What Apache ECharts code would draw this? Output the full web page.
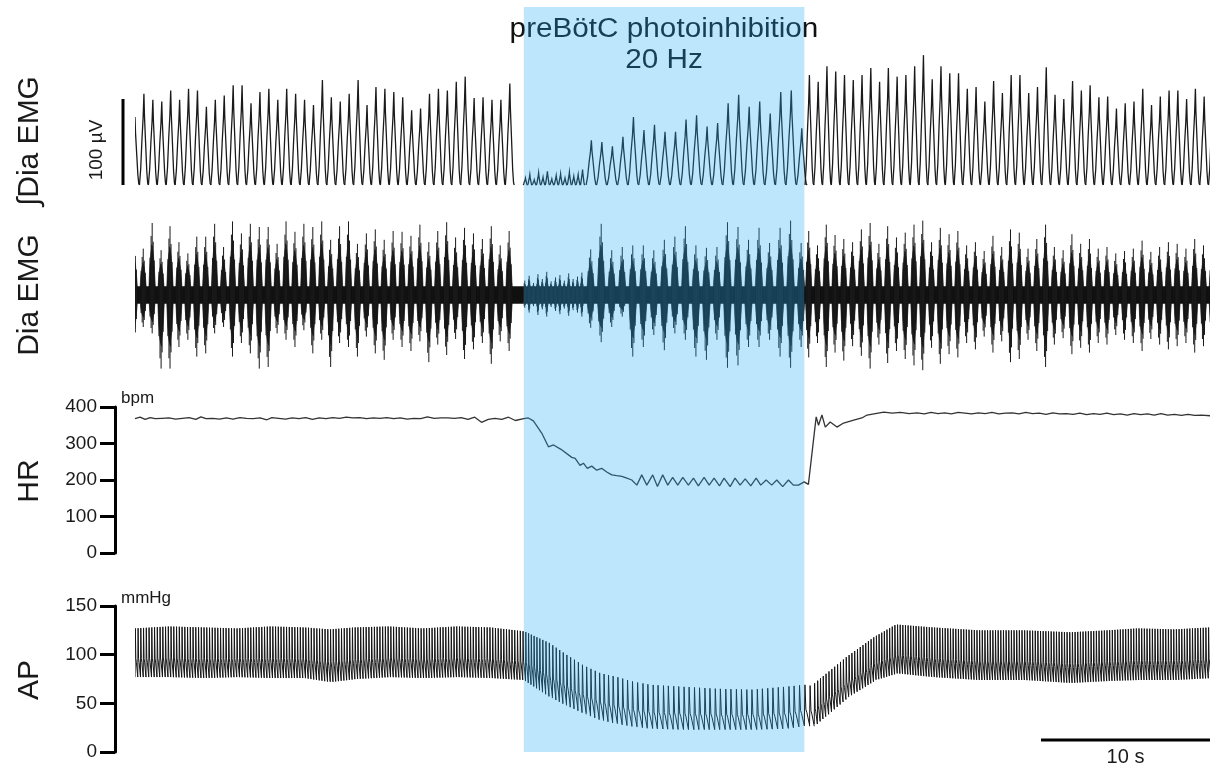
<!DOCTYPE html>
<html><head><meta charset="utf-8">
<script src="https://cdn.jsdelivr.net/npm/echarts@6/dist/echarts.min.js"></script>
<style>html,body{margin:0;padding:0;background:#fff}#c{width:1214px;height:767px}</style>
</head><body><div id="c"></div>
<script>
// ---------------- data ----------------
const T_MAX = 63.6;                 // s, full trace length
const STIM_ON = 23.0, STIM_OFF = 39.6; // photoinhibition window (s)
const SCALE_BAR_S = 10;

// breath segments: left control, early stim ripple, stim bursts, recovery
const segStart  = [0.0, 23.1, 27.0, 39.9];
const segPeriod = [0.528, 0.26, 0.6225, 0.519];

// integrated Dia EMG peak heights (µV) per breath
const intDiaLeft   = [79,106,99,97,110,99,112,110,91,99,104,116,116,95,108,112,99,112,106,99,93,122,102,97,106,122,93,114,112,108,102,87,89,106,112,110,120,126,101,102,99,99,118];
const intDiaRipple = [8,12,6,14,9,16,7,11,13,8,15,10,12,18];
const intDiaStim   = [52,50,45,56,79,64,70,62,62,76,81,68,72,95,105,91,97,83,108,110,66];
const intDiaRight  = [128,120,138,132,128,122,128,136,120,136,126,128,138,151,123,138,130,130,112,114,97,121,107,128,128,107,114,137,105,100,121,110,116,102,103,89,95,97,112,93,103,110,110,100,112,103,110];

// raw Dia EMG burst extents (µV, upward / downward) per breath
const emgUpLeft     = [66,58,90,56,86,66,52,73,73,89,60,92,77,89,85,85,64,92,79,89,85,92,69,86,92,64,77,82,69,80,79,74,88,66,80,91,72,84,77,70,86,62,80];
const emgDownLeft   = [-60,-40,-48,-92,-92,-65,-56,-77,-73,-48,-40,-77,-60,-73,-92,-90,-48,-56,-65,-44,-73,-56,-90,-60,-65,-77,-52,-73,-81,-56,-65,-70,-58,-84,-62,-75,-55,-80,-68,-60,-86,-58,-70];
const emgUpRipple   = [18,24,15,26,20,29,17,22,25,18,27,20,23,28];
const emgDownRipple = [-16,-22,-14,-25,-18,-27,-15,-20,-24,-17,-26,-19,-22,-27];
const emgUpStim     = [57,89,56,60,62,62,56,69,73,86,62,59,60,91,85,69,84,65,84,93,65];
const emgDownStim   = [-41,-59,-40,-27,-77,-65,-50,-69,-48,-56,-77,-81,-56,-91,-88,-65,-65,-56,-77,-91,-65];
const emgUpRight    = [80,62,88,75,70,66,82,90,64,86,72,78,88,93,66,84,76,80,62,66,55,74,60,82,78,58,70,88,60,56,76,64,70,58,60,52,55,58,68,54,60,66,64,58,70,62,60];
const emgDownRight  = [-78,-60,-90,-72,-82,-64,-76,-92,-62,-85,-70,-80,-88,-94,-66,-86,-74,-78,-60,-68,-52,-72,-58,-84,-80,-56,-70,-90,-62,-54,-74,-66,-72,-60,-62,-50,-56,-60,-70,-55,-62,-68,-64,-60,-72,-64,-60];
// tonic EMG background band (half width, µV) between times
const emgBandTimes = [0, 23.0, 27.0, 39.6, 63.6];
const emgBandHalf  = [11, 11, 11, 11];

// heart rate (bpm)
const hrTimes = [0,0.3,0.6,0.9,1.2,1.6,2.0,2.4,2.8,3.2,3.6,3.9,4.2,4.6,5.0,5.4,5.8,6.2,6.6,7.0,7.4,7.8,8.1,8.5,8.9,9.3,9.7,10.1,10.5,10.9,11.3,11.7,12.1,12.5,12.9,13.3,13.7,14.1,14.5,14.9,15.3,15.7,16.1,16.5,16.9,17.3,17.7,18.1,18.5,18.9,19.3,19.7,20.1,20.5,20.9,21.3,21.7,22.1,22.5,23.0,
  23.27,23.57,24.07,24.46,24.76,25.2,25.84,26.04,26.33,26.53,26.76,27.02,27.32,27.61,27.91,28.21,28.5,28.8,29.1,29.39,29.69,29.98,30.28,30.63,30.91,31.22,31.52,31.81,32.11,32.41,32.74,33.04,33.33,33.67,33.97,34.26,34.58,34.85,35.21,35.5,35.8,36.1,36.43,36.75,37.02,37.34,37.67,37.97,38.32,38.66,38.95,39.25,39.59,39.84,
  40.3,40.44,40.64,40.84,41.13,41.53,41.92,42.52,43.0,43.31,43.8,44.3,44.8,45.28,45.8,46.27,46.7,47.1,47.5,47.9,48.3,48.7,49.1,49.5,49.9,50.3,50.7,51.1,51.5,51.9,52.3,52.7,53.1,53.5,53.9,54.3,54.7,55.1,55.5,55.9,56.3,56.7,57.1,57.5,57.9,58.3,58.7,59.1,59.5,59.9,60.3,60.7,61.1,61.5,61.9,62.3,62.7,63.1,63.6];
const hrBpm = [368,372,366,371,368,369,370,367,369,371,366,373,368,369,367,370,367,371,369,368,370,365,371,369,367,370,368,371,366,370,368,371,369,372,370,371,368,370,369,371,368,370,367,369,368,373,369,370,370,369,371,366,372,358,366,369,366,372,363,368,
  370,362,328,291,296,284,262,259,240,246,232,238,227,232,222,214,212,210,205,200,186,214,186,214,182,214,186,207,186,207,186,205,184,207,186,205,184,205,182,205,186,203,184,205,186,200,186,200,182,200,186,186,195,188,
  373,350,378,345,359,345,356,364,370,378,382,386,383,385,382,384,381,385,382,384,381,385,383,381,384,382,385,381,383,384,381,385,382,383,380,384,381,382,380,383,379,382,380,383,379,381,378,382,379,381,378,382,378,380,377,380,377,378,376];

// arterial pressure envelope (mmHg): systolic / diastolic
const apTimes = [0,2,4,6,8,10,11.5,13,15,17,19,21,23.0,24.5,25.5,26.5,27.5,28.5,29.5,30.5,32.4,34.4,36.4,38.4,39.6,40.0,42.1,43.7,45.0,47.2,49.9,52.6,55.3,57.5,59.3,61.5,63.6];
const apSys   = [127,129,128,127,129,128,126,128,129,127,129,128,124,112,100,89,81,77,72,69,67,65,64,67,69,68,98,118,131,128,125,125,123,125,127,126,128];
const apDia   = [77,77,76,77,76,76,72,75,77,76,77,76,74,57,48,40,33,29,26,24,23,23,23,24,28,26,57,74,81,77,74,74,71,73,74,74,76];

const hrTicks = [0,100,200,300,400];
const apTicks = [0,50,100,150];

// ---------------- build items ----------------
function breathItems(vals, seg){ return vals.map((v,i)=>[segStart[seg]+i*segPeriod[seg], v, segPeriod[seg]]); }
const intItems = [].concat(breathItems(intDiaLeft,0), breathItems(intDiaRipple,1), breathItems(intDiaStim,2), breathItems(intDiaRight,3));
function burstItems(ups, downs, seg){ return ups.map((u,i)=>[segStart[seg]+i*segPeriod[seg]-0.04, u, downs[i], segPeriod[seg]]); }
const emgItems = [].concat(burstItems(emgUpLeft,emgDownLeft,0), burstItems(emgUpRipple,emgDownRipple,1), burstItems(emgUpStim,emgDownStim,2), burstItems(emgUpRight,emgDownRight,3));
const bandItems = emgBandHalf.map((h,i)=>[emgBandTimes[i], emgBandTimes[i+1], h, -h]);
const hrData = hrTimes.map((t,i)=>[t, hrBpm[i]]);
const apItems = apTimes.slice(0,-1).map((t,i)=>[t, apTimes[i+1], apSys[i], apSys[i+1], apDia[i], apDia[i+1]]);

function hrAt(t){
  for(let i=1;i<hrTimes.length;i++){
    if(t<=hrTimes[i]){ const f=(t-hrTimes[i-1])/(hrTimes[i]-hrTimes[i-1]); return hrBpm[i-1]+f*(hrBpm[i]-hrBpm[i-1]); }
  }
  return hrBpm[hrBpm.length-1];
}
const beatTimes=[]; { let tb=0; while(tb<T_MAX+0.4){ beatTimes.push(tb); tb+=60/hrAt(tb); } }

// ---------------- renderers ----------------
const BREATH_SHAPE = [[-0.5,0],[-0.36,0.18],[-0.22,0.5],[-0.09,0.74],[0,1],[0.06,0.76],[0.18,0.48],[0.32,0.15],[0.42,0.02],[0.5,0]];
function renderBreath(params, api){
  const t=api.value(0), A=api.value(1), P=api.value(2);
  const pts = BREATH_SHAPE.map(p=>api.coord([t+p[0]*P, p[1]*A]));
  return {type:'polyline', shape:{points:pts}, style:{stroke:'#1a1a1a', lineWidth:1.3, fill:'none'}};
}
const SPINDLE = [[-1,0],[-0.7,0.38],[-0.35,0.6],[0,0.68],[0.35,0.55],[0.7,0.3],[1,0]];
const SPIKES = [[0,1,1],[-0.3,0.82,0.86],[0.28,0.74,0.78],[-0.6,0.52,0.56],[0.58,0.48,0.5],[-0.12,0.7,0.65],[0.14,0.62,0.7]];
function renderBurst(params, api){
  const t=api.value(0), up=api.value(1), dn=api.value(2), P=api.value(3);
  const w = P*0.4;
  const poly=[];
  SPINDLE.forEach(p=>poly.push(api.coord([t+p[0]*w, p[1]*up])));
  SPINDLE.slice().reverse().forEach(p=>poly.push(api.coord([t+p[0]*w, p[1]*dn])));
  const children=[{type:'polygon', shape:{points:poly}, style:{fill:'#0a0a0a', stroke:'#151515', lineWidth:0.6}}];
  SPIKES.forEach(s=>{
    const a=api.coord([t+s[0]*w, s[1]*up]), b=api.coord([t+s[0]*w, s[2]*dn]);
    children.push({type:'line', shape:{x1:a[0],y1:a[1],x2:b[0],y2:b[1]}, style:{stroke:'#1a1a1a', lineWidth:1}});
  });
  return {type:'group', children};
}
function renderBand(params, api){
  const a=api.coord([api.value(0), api.value(2)]), b=api.coord([api.value(1), api.value(3)]);
  return {type:'rect', shape:{x:a[0], y:a[1], width:b[0]-a[0], height:b[1]-a[1]}, style:{fill:'#101010'}};
}
function renderAP(params, api){
  const t0=api.value(0), t1=api.value(1), s0=api.value(2), s1=api.value(3), d0=api.value(4), d1=api.value(5);
  const pts=[];
  for(let k=0;k<beatTimes.length-1;k++){
    const b=beatTimes[k]; if(b<t0 || b>=t1) continue;
    const T=beatTimes[k+1]-b, f=(b-t0)/(t1-t0);
    const sys=s0+f*(s1-s0), dia=d0+f*(d1-d0), pp=sys-dia;
    pts.push(api.coord([b, dia]));
    pts.push(api.coord([b+0.12*T, sys]));
    pts.push(api.coord([b+0.3*T, dia+0.38*pp]));
    pts.push(api.coord([b+0.5*T, dia+0.3*pp]));
    pts.push(api.coord([b+0.999*T, dia]));
  }
  return {type:'polyline', shape:{points:pts}, style:{stroke:'#151515', lineWidth:1.0, fill:'none'}};
}

// ---------------- chart ----------------
const FONT = 'Liberation Sans, Arial, Helvetica, sans-serif';
const chart = echarts.init(document.getElementById('c'), null, {renderer:'canvas'});
const L = 135, R = 4;
const grids = [
  {left:L, right:R, top:47.4, height:146.2},
  {left:L, right:R, top:215, height:160},
  {left:L, right:R, top:407, height:146},
  {left:L, right:R, top:606, height:146}
];
const xAxes = grids.map((g,i)=>({type:'value', gridIndex:i, min:0, max:T_MAX, show:false}));
const axisY = (i, max, interval) => ({
  type:'value', gridIndex:i, min:0, max, interval, offset:20,
  axisLine:{show:true, onZero:false, lineStyle:{color:'#000', width:3}},
  axisTick:{show:true, inside:false, length:15, lineStyle:{color:'#000', width:3}},
  axisLabel:{show:true, margin:18, fontSize:19, color:'#1a1a1a', fontFamily:FONT,
             formatter:v=>String(v)},
  splitLine:{show:false}
});
const yAxes = [
  {type:'value', gridIndex:0, min:-10, max:160, show:false},
  {type:'value', gridIndex:1, min:-100, max:100, show:false},
  axisY(2, hrTicks[hrTicks.length-1], hrTicks[1]-hrTicks[0]),
  axisY(3, apTicks[apTicks.length-1], apTicks[1]-apTicks[0])
];

chart.setOption({
  animation:false,
  backgroundColor:'#fff',
  grid:grids, xAxis:xAxes, yAxis:yAxes,
  series:[
    {type:'custom', name:'∫Dia EMG', xAxisIndex:0, yAxisIndex:0, clip:true, renderItem:renderBreath, data:intItems, encode:{x:0, y:1}},
    {type:'custom', name:'Dia EMG band', xAxisIndex:1, yAxisIndex:1, clip:true, renderItem:renderBand, data:bandItems, encode:{x:[0,1], y:[2,3]}},
    {type:'custom', name:'Dia EMG', xAxisIndex:1, yAxisIndex:1, clip:true, renderItem:renderBurst, data:emgItems, encode:{x:0, y:[1,2]}},
    {type:'line', name:'HR', xAxisIndex:2, yAxisIndex:2, data:hrData, showSymbol:false, symbol:'none',
     lineStyle:{color:'#333', width:1.3}},
    {type:'custom', name:'AP', xAxisIndex:3, yAxisIndex:3, clip:true, renderItem:renderAP, data:apItems, encode:{x:[0,1], y:[2,3,4,5]}}
  ]
});

const px = t => chart.convertToPixel({xAxisIndex:0}, t);
const py = (i, v) => chart.convertToPixel({yAxisIndex:i}, v);
const x0 = px(STIM_ON), x1 = px(STIM_OFF);
const apZero = py(3, 0);
const rotLabel = (text, x, y, size) => ({type:'text', x, y, rotation:Math.PI/2, z:1,
  style:{text, fontSize:size, fontFamily:FONT, fill:'#1a1a1a', align:'center', verticalAlign:'middle'}});
const barY = 740;
const sb0 = px(T_MAX - SCALE_BAR_S), sb1 = px(T_MAX);

chart.setOption({
  graphic:[
    {type:'text', x:664, y:30, z:1, scaleX:1.1, style:{text:'preBötC photoinhibition', fontSize:27, fontFamily:FONT, fill:'#111', align:'center', verticalAlign:'middle'}},
    {type:'text', x:664, y:61, z:1, scaleX:1.1, style:{text:'20 Hz', fontSize:27, fontFamily:FONT, fill:'#111', align:'center', verticalAlign:'middle'}},
    rotLabel('∫Dia EMG', 30, 141, 30),
    rotLabel('Dia EMG', 30, 295, 30),
    rotLabel('HR', 30, 481, 30),
    rotLabel('AP', 30, 680, 30),
    rotLabel('100 µV', 97, 150, 19),
    {type:'line', z:1, shape:{x1:123, y1:py(0,0), x2:123, y2:py(0,100)}, style:{stroke:'#000', lineWidth:3}},
    {type:'text', x:121, y:py(2,400)-9, z:1, style:{text:'bpm', fontSize:17, fontFamily:FONT, fill:'#1a1a1a', align:'left', verticalAlign:'middle'}},
    {type:'text', x:121, y:py(3,150)-8, z:1, style:{text:'mmHg', fontSize:17, fontFamily:FONT, fill:'#1a1a1a', align:'left', verticalAlign:'middle'}},
    {type:'line', z:1, shape:{x1:sb0, y1:barY, x2:sb1, y2:barY}, style:{stroke:'#000', lineWidth:3}},
    {type:'text', x:(sb0+sb1)/2, y:757, z:1, style:{text:'10 s', fontSize:20, fontFamily:FONT, fill:'#1a1a1a', align:'center', verticalAlign:'middle'}},
    {type:'rect', z:100, shape:{x:x0, y:7, width:x1-x0, height:apZero-7}, style:{fill:'rgba(35,172,248,0.3)'}}
  ]
});
</script></body></html>
